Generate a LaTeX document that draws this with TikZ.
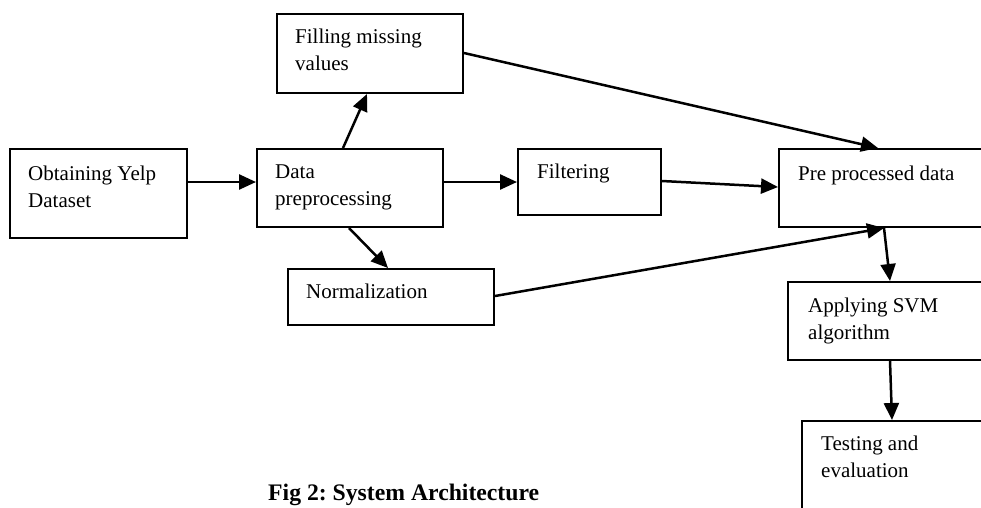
\documentclass[tikz,border=0pt]{standalone}
\usepackage{fontspec}
\setmainfont{Liberation Serif}
\usetikzlibrary{arrows.meta,calc}
\frenchspacing
\begin{document}
\begin{tikzpicture}[x=1pt,y=-1pt,
  box/.style={draw, line width=2pt, inner sep=0pt, anchor=north west},
  lbl/.style={inner sep=0pt, anchor=north west, align=left,
    font=\fontsize{21}{27.5}\selectfont},
  arr/.style={line width=2.5pt, -{Triangle[length=17pt,width=15pt]}},
  capt/.style={inner sep=0pt, anchor=base west, font=\fontsize{23.7}{28}\selectfont\bfseries}]
\useasboundingbox (0,0) rectangle (981,507);
\clip (0,0) rectangle (981,507);
% boxes
\node[box, minimum width=177pt, minimum height=89pt] (obt) at (9,148) {};
\node[box, minimum width=186pt, minimum height=78pt] (data) at (256,148) {};
\node[box, minimum width=186pt, minimum height=79pt] (fill) at (276,13) {};
\node[box, minimum width=143pt, minimum height=66pt] (filt) at (517,148) {};
\node[box, minimum width=240pt, minimum height=78pt] (pre) at (778,148) {};
\node[box, minimum width=206pt, minimum height=56pt] (norm) at (287,268) {};
\node[box, minimum width=230pt, minimum height=78pt] (svm) at (787,281) {};
\node[box, minimum width=230pt, minimum height=130pt] (test) at (801,420) {};
% labels
\node[lbl] (tobt) at ($(obt.north west)+(19,10)$) {\rule{0pt}{22pt}Obtaining Yelp\\Dataset};
\node[lbl] (tdata) at ($(data.north west)+(19,8)$) {\rule{0pt}{22pt}Data\\preprocessing};
\node[lbl] (tfill) at ($(fill.north west)+(19,8)$) {\rule{0pt}{22pt}Filling missing\\values};
\node[lbl] (tfilt) at ($(filt.north west)+(20,8)$) {\rule{0pt}{22pt}Filtering};
\node[lbl] (tpre) at ($(pre.north west)+(20,10)$) {\rule{0pt}{22pt}Pre processed data};
\node[lbl] (tnorm) at ($(norm.north west)+(19,8)$) {\rule{0pt}{22pt}Normalization};
\node[lbl] (tsvm) at ($(svm.north west)+(21,9)$) {\rule{0pt}{22pt}Applying SVM\\algorithm};
\node[lbl] (ttest) at ($(test.north west)+(20,8)$) {\rule{0pt}{22pt}Testing and\\evaluation};
% caption
\node[capt] (cap) at (268,500) {Fig 2: System Architecture};
% connectors
\draw[arr] ($(obt.north east)+(0,34)$) -- ($(data.north west)+(0,34)$);
\draw[arr] ($(data.north west)+(87,0)$) -- ($(fill.south west)+(91,0)$);
\draw[arr] ($(data.south west)+(93,0)$) -- ($(norm.north west)+(101,0)$);
\draw[arr] ($(data.north east)+(0,34)$) -- ($(filt.north west)+(0,34)$);
\draw[arr] ($(filt.north east)+(0,33)$) -- ($(pre.north west)+(0,39)$);
\draw[arr] ($(fill.north east)+(0,40)$) -- ($(pre.north west)+(100,0)$);
\draw[arr] ($(norm.north east)+(0,28)$) -- ($(pre.south west)+(106,0)$);
\draw[arr] ($(pre.south west)+(106,0)$) -- ($(svm.north west)+(103,0)$);
\draw[arr] ($(svm.south west)+(103,0)$) -- ($(test.north west)+(91,0)$);
\end{tikzpicture}
\end{document}
